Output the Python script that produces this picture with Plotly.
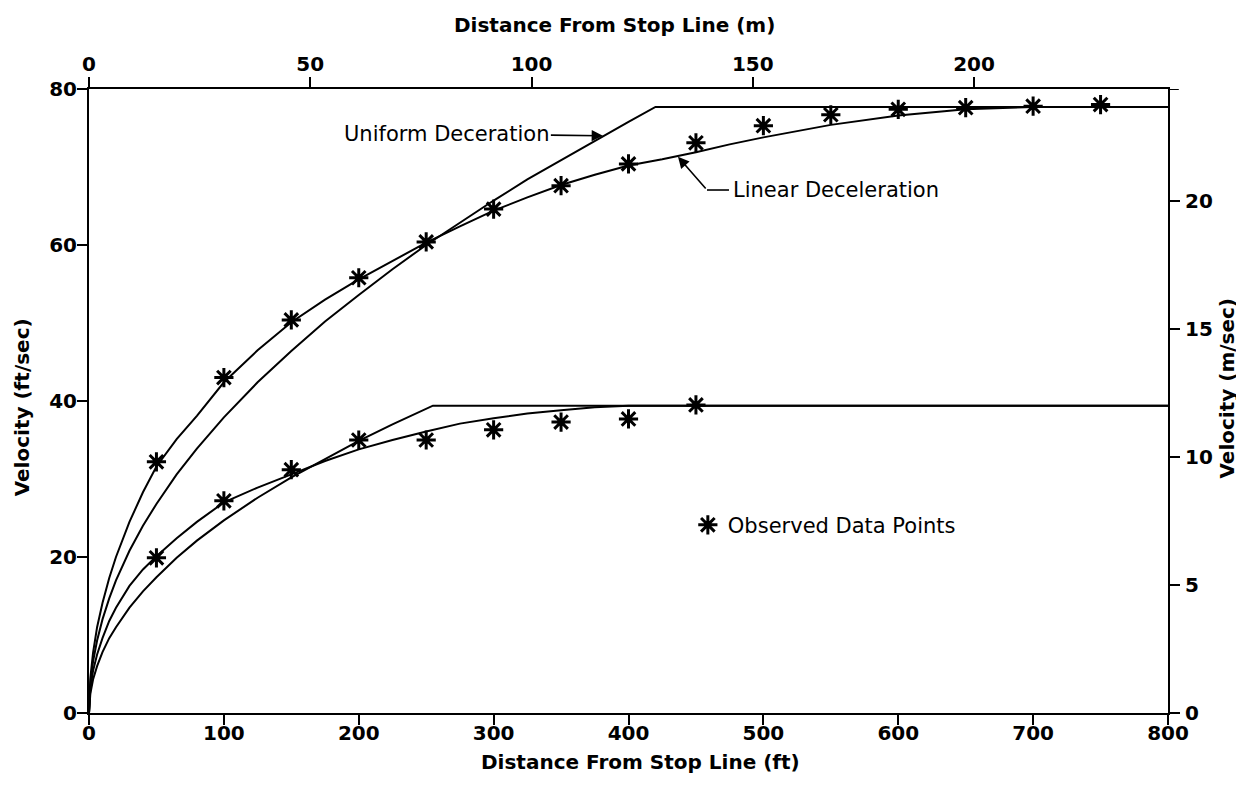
import plotly.graph_objects as go

FT_PER_M = 0.3048

# ---- data ----
# Observed data points (distance ft, velocity ft/sec)
obs_hi_x = [50, 100, 150, 200, 250, 300, 350, 400, 450, 500, 550, 600, 650, 700, 750]
obs_hi_v = [32.2, 43.0, 50.4, 55.8, 60.4, 64.6, 67.6, 70.4, 73.1, 75.3, 76.7, 77.4, 77.6, 77.8, 78.0]
obs_lo_x = [50, 100, 150, 200, 250, 300, 350, 400, 450]
obs_lo_v = [19.9, 27.2, 31.2, 35.0, 35.0, 36.3, 37.3, 37.7, 39.5]

# Uniform deceleration model, high approach speed
uni_hi_x = [0, 1, 3, 6, 10, 15, 20, 30, 40, 50, 65, 80, 100, 125, 150, 175, 200,
            225, 250, 275, 300, 325, 350, 375, 400, 420, 800]
uni_hi_v = [0, 3.8, 6.6, 9.3, 12.0, 14.7, 17.0, 20.8, 24.0, 26.8, 30.6, 33.9, 37.9,
            42.4, 46.4, 50.2, 53.6, 56.9, 60.0, 62.9, 65.7, 68.4, 70.9, 73.4, 75.8, 77.7, 77.7]

# Linear deceleration model, high approach speed
lin_hi_x = [0, 1, 3, 6, 10, 15, 20, 30, 40, 50, 65, 80, 100, 125, 150, 175, 200, 225,
            250, 275, 300, 325, 350, 375, 400, 425, 450, 475, 500, 550, 600, 650, 700, 800]
lin_hi_v = [0, 4.5, 7.7, 11.0, 14.1, 17.3, 20.0, 24.5, 28.3, 31.6, 35.1, 38.1, 42.4,
            46.5, 50.1, 53.0, 55.6, 58.0, 60.3, 62.4, 64.4, 66.1, 67.7, 69.0, 70.2,
            71.0, 71.9, 72.9, 73.8, 75.4, 76.6, 77.4, 77.7, 77.7]

# Uniform deceleration model, low approach speed
uni_lo_x = [0, 1, 3, 6, 10, 15, 20, 30, 40, 50, 65, 80, 100, 125, 150, 175, 200, 225, 255, 800]
uni_lo_v = [0, 2.5, 4.3, 6.0, 7.8, 9.6, 11.0, 13.5, 15.6, 17.4, 19.9, 22.1, 24.7, 27.6,
            30.2, 32.6, 34.9, 37.0, 39.4, 39.4]

# Linear deceleration model, low approach speed
lin_lo_x = [0, 1, 3, 6, 10, 15, 20, 30, 40, 50, 65, 80, 100, 125, 150, 175, 200, 225,
            250, 275, 300, 325, 350, 375, 400, 800]
lin_lo_v = [0, 3.1, 5.4, 7.5, 9.6, 11.8, 13.5, 16.3, 18.4, 20.1, 22.4, 24.5, 27.0, 28.9,
            30.6, 32.3, 33.8, 35.0, 36.1, 37.1, 37.8, 38.4, 38.8, 39.2, 39.4, 39.4]

ft_ticks = [0, 100, 200, 300, 400, 500, 600, 700, 800]
m_ticks = [0, 50, 100, 150, 200]
vft_ticks = [0, 20, 40, 60, 80]
vm_ticks = [0, 5, 10, 15, 20]

X_MAX_FT = 800
Y_MAX_FT = 80

TICK_FONT = dict(family="DejaVu Sans", size=20, color="black", weight="bold")
TITLE_FONT = dict(family="DejaVu Sans", size=20, color="black", weight="bold")
NOTE_FONT = dict(family="DejaVu Sans", size=21, color="black")

fig = go.Figure()
line_style = dict(color="black", width=2)
for xs, vs in [(uni_hi_x, uni_hi_v), (lin_hi_x, lin_hi_v),
               (uni_lo_x, uni_lo_v), (lin_lo_x, lin_lo_v)]:
    fig.add_trace(go.Scatter(x=xs, y=vs, mode="lines", line=line_style,
                             showlegend=False, hoverinfo="skip"))

fig.add_trace(go.Scatter(
    x=obs_hi_x + obs_lo_x, y=obs_hi_v + obs_lo_v, mode="markers",
    name="Observed Data Points",
    marker=dict(symbol="asterisk", size=16, color="black",
                line=dict(color="black", width=3)),
    cliponaxis=False))

# metric twin of the observed points (invisible) to carry the metric axes
fig.add_trace(go.Scatter(
    x=[v * FT_PER_M for v in obs_hi_x + obs_lo_x],
    y=[v * FT_PER_M for v in obs_hi_v + obs_lo_v],
    xaxis="x2", yaxis="y2", mode="markers", marker=dict(opacity=0),
    showlegend=False, hoverinfo="skip"))

axis_common = dict(showgrid=False, zeroline=False, showline=True, linecolor="black",
                   linewidth=2, ticks="outside", ticklen=10, tickwidth=2,
                   tickcolor="black", tickfont=TICK_FONT)

fig.update_layout(
    width=1236, height=783,
    margin=dict(l=81, r=76, t=81, b=78, autoexpand=False),
    paper_bgcolor="white", plot_bgcolor="white",
    xaxis=dict(range=[0, X_MAX_FT], tickvals=ft_ticks, ticklabelstandoff=-9, **axis_common),
    xaxis2=dict(range=[0, X_MAX_FT * FT_PER_M], tickvals=m_ticks, overlaying="x",
                side="top", ticklabelstandoff=-2, **axis_common),
    yaxis=dict(range=[0, Y_MAX_FT], tickvals=vft_ticks, ticklabelstandoff=-4, **axis_common),
    yaxis2=dict(range=[0, Y_MAX_FT * FT_PER_M], tickvals=vm_ticks, overlaying="y",
                side="right", ticklabelstandoff=1, **axis_common),
    legend=dict(x=0.555, y=0.301, xanchor="left", yanchor="middle",
                font=NOTE_FONT, bgcolor="rgba(0,0,0,0)", borderwidth=0),
    font=dict(family="DejaVu Sans", color="black"),
)

annotations = [
    dict(text="Distance From Stop Line (ft)", xref="paper", yref="paper",
         x=0.511, y=-0.078, showarrow=False, font=TITLE_FONT, yanchor="middle"),
    dict(text="Distance From Stop Line (m)", xref="paper", yref="paper",
         x=0.487, y=1.103, showarrow=False, font=TITLE_FONT, yanchor="middle"),
    dict(text="Velocity (ft/sec)", xref="paper", yref="paper", x=-0.062, y=0.49,
         textangle=-90, showarrow=False, font=TITLE_FONT, xanchor="center"),
    dict(text="Velocity (m/sec)", xref="paper", yref="paper", x=1.0538, y=0.52,
         textangle=-90, showarrow=False, font=TITLE_FONT, xanchor="center"),
    # Uniform deceleration label with arrow
    dict(text="Uniform Deceration", x=381, y=74.0, xref="x", yref="y",
         ax=-156, ay=-2, showarrow=True, arrowhead=2, arrowsize=1.4,
         arrowwidth=1.6, arrowcolor="black", standoff=0, font=NOTE_FONT),
    # Linear deceleration label
    dict(text="Linear Deceleration", x=476, y=67.05, xref="x", yref="y",
         xanchor="left", showarrow=False, font=NOTE_FONT),
    # bent leader: diagonal arrow part
    dict(text="", x=436.7, y=71.3, xref="x", yref="y", axref="x", ayref="y",
         ax=458.2, ay=67.05, showarrow=True, arrowhead=2, arrowsize=1.4,
         arrowwidth=1.6, arrowcolor="black", standoff=0),
]
fig.update_layout(annotations=annotations)

fig.add_shape(type="line", xref="x", yref="y", x0=458.2, x1=474.5, y0=67.05, y1=67.05,
              line=dict(color="black", width=1.6))
# top border extends a little beyond the right axis
fig.add_shape(type="line", xref="paper", yref="y", x0=1.0, x1=1.01, y0=Y_MAX_FT, y1=Y_MAX_FT,
              line=dict(color="black", width=2))

fig.write_html("out.html")
